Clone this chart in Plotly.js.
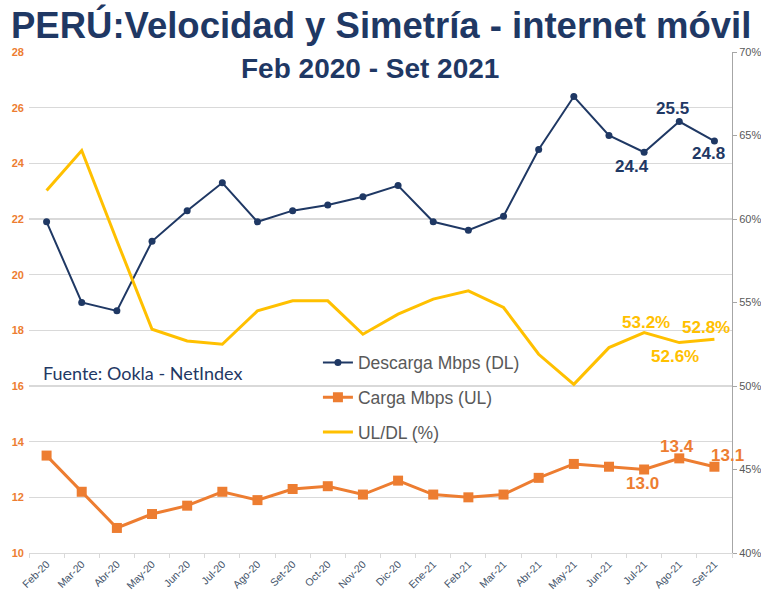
<!DOCTYPE html>
<html>
<head>
<meta charset="utf-8">
<script src="https://cdn.plot.ly/plotly-3.0.1.min.js"></script>
<style>html,body{margin:0;padding:0;background:#fff;}#chart{width:761px;height:591px;}</style>
</head>
<body>
<div id="chart"></div>
<script>
const months = ["Feb-20","Mar-20","Abr-20","May-20","Jun-20","Jul-20","Ago-20","Set-20","Oct-20","Nov-20","Dic-20","Ene-21","Feb-21","Mar-21","Abr-21","May-21","Jun-21","Jul-21","Ago-21","Set-21"];
const descarga = [21.9,19.0,18.7,21.2,22.3,23.3,21.9,22.3,22.5,22.8,23.2,21.9,21.6,22.1,24.5,26.4,25.0,24.4,25.5,24.8];
const carga = [13.5,12.2,10.9,11.4,11.7,12.2,11.9,12.3,12.4,12.1,12.6,12.1,12.0,12.1,12.7,13.2,13.1,13.0,13.4,13.1];
const ratio = [61.7,64.1,58.7,53.4,52.7,52.5,54.5,55.1,55.1,53.1,54.3,55.2,55.7,54.7,51.9,50.1,52.3,53.2,52.6,52.8];
const leftTicks = [10,12,14,16,18,20,22,24,26,28];
const rightTicks = [40,45,50,55,60,65,70];

const navy = "#1F3864", orange = "#ED7D31", yellow = "#FFC000";

const traces = [
  {x: months, y: descarga, name: "Descarga Mbps (DL)", type: "scatter", mode: "lines+markers",
   line: {color: navy, width: 2}, marker: {color: navy, size: 7, symbol: "circle"}, legendgroup: "a"},
  {x: months, y: carga, name: "Carga Mbps (UL)", type: "scatter", mode: "lines+markers",
   line: {color: orange, width: 3}, marker: {color: orange, size: 10, symbol: "square"}, legendgroup: "b"},
  {x: months, y: ratio, name: "UL/DL (%)", type: "scatter", mode: "lines", yaxis: "y2",
   line: {color: yellow, width: 3}, legendgroup: "c"}
];

function lab(i, arr, yref, txt, color, dx, dy) {
  return {x: months[i], y: arr[i], xref: "x", yref: yref, text: txt, showarrow: false,
    xshift: dx, yshift: dy, font: {family: "Liberation Sans, Arial, sans-serif", size: 17, color: color, weight: "bold"}};
}

const ann = [
  {text: "<b>PERÚ:Velocidad y Simetría - internet móvil</b>", xref: "paper", yref: "paper", x: 0.5, y: 1, xanchor: "center", yanchor: "bottom",
   yshift: 4, showarrow: false, font: {family: "Liberation Sans, Arial, sans-serif", size: 36.5, color: navy}},
  {text: "<b>Feb 2020 - Set 2021</b>", xref: "paper", yref: "paper", x: 0.485, y: 1, xanchor: "center", yanchor: "top",
   yshift: 1, showarrow: false, font: {family: "Liberation Sans, Arial, sans-serif", size: 28, color: navy}},
  {text: "Fuente: Ookla - NetIndex", xref: "paper", yref: "paper", x: 0.017, y: 0.36, xanchor: "left", yanchor: "middle",
   showarrow: false, font: {family: "Lato, Open Sans, sans-serif", size: 18, color: navy}},
  lab(18, descarga, "y", "25.5", navy, -7, 13),
  lab(17, descarga, "y", "24.4", navy, -12, -14),
  lab(19, descarga, "y", "24.8", navy, -6, -12),
  lab(18, carga, "y", "13.4", orange, -2, 12),
  lab(17, carga, "y", "13.0", orange, -2, -14),
  lab(19, carga, "y", "13.1", orange, 13, 11),
  lab(17, ratio, "y2", "53.2%", yellow, 2, 10),
  lab(18, ratio, "y2", "52.6%", yellow, -4, -14),
  lab(19, ratio, "y2", "52.8%", yellow, -8, 12)
];

const layout = {
  width: 761, height: 591,
  margin: {l: 29, r: 29, t: 52, b: 38},
  paper_bgcolor: "#fff", plot_bgcolor: "#fff",
  showlegend: true,
  legend: {x: 0.411, y: 0.416, xanchor: "left", yanchor: "top", bgcolor: "rgba(0,0,0,0)",
    traceorder: "grouped", tracegroupgap: 9,
    font: {family: "Liberation Sans, Arial, sans-serif", size: 17.5, color: "#595959"}, itemwidth: 30},
  xaxis: {type: "category", categoryarray: months, range: [-0.5, 19.5], showgrid: false,
    showline: true, linecolor: "#d9d9d9", linewidth: 1, ticks: "outside", tickson: "boundaries",
    tickcolor: "#d9d9d9", ticklen: 4, tickangle: -45,
    tickfont: {family: "Liberation Sans, Arial, sans-serif", size: 10.5, color: "#44546A"}, zeroline: false},
  yaxis: {range: [10, 28], tickvals: leftTicks, ticktext: leftTicks.map(String), showgrid: true,
    gridcolor: "#d9d9d9", gridwidth: 1.5, zeroline: false, showline: false, ticks: "", ticklabelstandoff: 4,
    tickfont: {family: "Liberation Sans, Arial, sans-serif", size: 11, color: orange, weight: "bold"}},
  yaxis2: {range: [40, 70], overlaying: "y", side: "right", tickvals: rightTicks, ticktext: rightTicks.map(v => v + "%"),
    showgrid: false, zeroline: false, showline: true, linecolor: "#a6a6a6", linewidth: 1,
    ticks: "outside", ticklen: 4, tickcolor: "#a6a6a6",
    tickfont: {family: "Liberation Sans, Arial, sans-serif", size: 11, color: "#595959"}},
  annotations: ann
};

Plotly.newPlot("chart", traces, layout, {displayModeBar: false, staticPlot: true});
</script>
</body>
</html>
